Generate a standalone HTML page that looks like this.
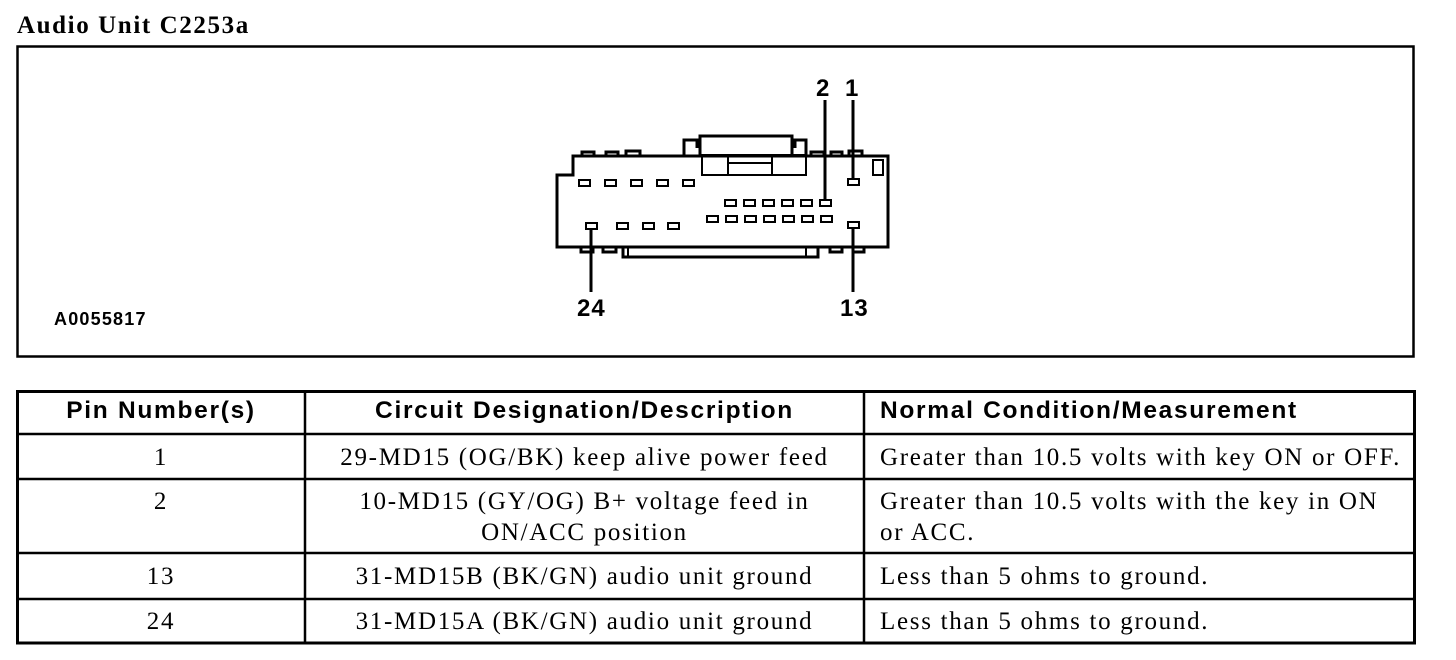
<!DOCTYPE html>
<html><head><style>
body{margin:0;width:1456px;height:660px;background:#fff;position:relative;overflow:hidden;font-family:"Liberation Serif",serif;color:#000}
.t{position:absolute;white-space:nowrap}
.s{font-family:"Liberation Sans",sans-serif;font-weight:bold}
.c{text-align:center}
.r{font-size:25px;line-height:31px;letter-spacing:1.7px}
.h{font-size:24.5px;letter-spacing:1.7px}
</style></head><body>
<div class="t" style="left:17px;top:12px;font-size:25px;font-weight:bold;letter-spacing:1.6px">Audio Unit C2253a</div>
<svg width="1456" height="660" style="position:absolute;left:0;top:0">
<g fill="none" stroke="#000">
<rect x="17.5" y="46.5" width="1396" height="310" stroke-width="2.5"/>
<g stroke-width="3">
<path d="M557 247 V175 H573 V156 H888 V247 Z"/>
<path d="M700 156 V136 H792 V156"/>
<path d="M684 156 V140 H697 V148 M795 148 V140 H806 V156"/>
<path d="M623 247 V257 H818 V247"/>
<path d="M582 156 V152 H594 V156 M606 156 V152 H618 V156 M626 156 V151 H640 V156 M811 156 V152 H824 V156 M831 156 V152 H842 V156 M849 156 V151 H862 V156"/>
<path d="M581 247 V252 H593 V247 M603 247 V252 H616 V247 M830 247 V252 H842 V247 M853 247 V252 H864 V247"/>
</g>
<g stroke-width="2">
<rect x="702" y="155" width="104" height="20"/>
<line x1="728" y1="155" x2="728" y2="175"/><line x1="772" y1="155" x2="772" y2="175"/>
<line x1="728" y1="163" x2="772" y2="163"/>
<rect x="873" y="160" width="10" height="15"/>
<line x1="628" y1="247" x2="628" y2="257"/><line x1="806" y1="247" x2="806" y2="257"/>
</g>
<g stroke-width="2">
<rect x="579" y="180" width="11" height="6"/><rect x="605" y="180" width="11" height="6"/><rect x="631" y="180" width="11" height="6"/><rect x="657" y="180" width="11" height="6"/><rect x="683" y="180" width="11" height="6"/><rect x="848" y="179" width="11" height="6"/>
<rect x="725" y="200" width="11" height="6"/><rect x="744" y="200" width="11" height="6"/><rect x="763" y="200" width="11" height="6"/><rect x="782" y="200" width="11" height="6"/><rect x="801" y="200" width="11" height="6"/><rect x="820" y="200" width="11" height="6"/>
<rect x="707" y="216" width="11" height="6"/><rect x="726" y="216" width="11" height="6"/><rect x="745" y="216" width="11" height="6"/><rect x="764" y="216" width="11" height="6"/><rect x="783" y="216" width="11" height="6"/><rect x="802" y="216" width="11" height="6"/><rect x="821" y="216" width="11" height="6"/>
<rect x="586" y="223" width="11" height="6"/><rect x="617" y="223" width="11" height="6"/><rect x="643" y="223" width="11" height="6"/><rect x="668" y="223" width="11" height="6"/><rect x="848" y="222" width="11" height="6"/>
</g>
<g stroke-width="3">
<line x1="825" y1="100" x2="825" y2="200"/><line x1="853" y1="100" x2="853" y2="179"/>
<line x1="591" y1="229" x2="591" y2="292"/><line x1="853" y1="228" x2="853" y2="292"/>
</g>
<rect x="17.5" y="391.5" width="1397" height="251.5" stroke-width="3"/>
<g stroke-width="2.5">
<line x1="305" y1="391" x2="305" y2="643"/><line x1="864" y1="391" x2="864" y2="643"/>
<line x1="17" y1="434" x2="1415" y2="434"/><line x1="17" y1="479" x2="1415" y2="479"/>
<line x1="17" y1="553" x2="1415" y2="553"/><line x1="17" y1="599" x2="1415" y2="599"/>
</g>
</g>
</svg>
<div class="t s" style="left:816px;top:75px;font-size:24px">2</div>
<div class="t s" style="left:845px;top:75px;font-size:24px">1</div>
<div class="t s" style="left:577px;top:295px;font-size:24px;letter-spacing:1px">24</div>
<div class="t s" style="left:840px;top:295px;font-size:24px;letter-spacing:1px">13</div>
<div class="t s" style="left:54px;top:309px;font-size:18px;letter-spacing:1.2px">A0055817</div>

<div class="t s c h" style="left:17px;width:288px;top:397px">Pin Number(s)</div>
<div class="t s c h" style="left:305px;width:559px;top:397px">Circuit Designation/Description</div>
<div class="t s h" style="left:880px;top:397px">Normal Condition/Measurement</div>

<div class="t c r" style="left:17px;width:288px;top:442px">1</div>
<div class="t c r" style="left:305px;width:559px;top:442px">29-MD15 (OG/BK) keep alive power feed</div>
<div class="t r" style="left:880px;top:442px">Greater than 10.5 volts with key ON or OFF.</div>

<div class="t c r" style="left:17px;width:288px;top:486px">2</div>
<div class="t c r" style="left:305px;width:559px;top:486px">10-MD15 (GY/OG) B+ voltage feed in<br>ON/ACC position</div>
<div class="t r" style="left:880px;top:486px">Greater than 10.5 volts with the key in ON<br>or ACC.</div>

<div class="t c r" style="left:17px;width:288px;top:561px">13</div>
<div class="t c r" style="left:305px;width:559px;top:561px">31-MD15B (BK/GN) audio unit ground</div>
<div class="t r" style="left:880px;top:561px">Less than 5 ohms to ground.</div>

<div class="t c r" style="left:17px;width:288px;top:606px">24</div>
<div class="t c r" style="left:305px;width:559px;top:606px">31-MD15A (BK/GN) audio unit ground</div>
<div class="t r" style="left:880px;top:606px">Less than 5 ohms to ground.</div>
</body></html>
